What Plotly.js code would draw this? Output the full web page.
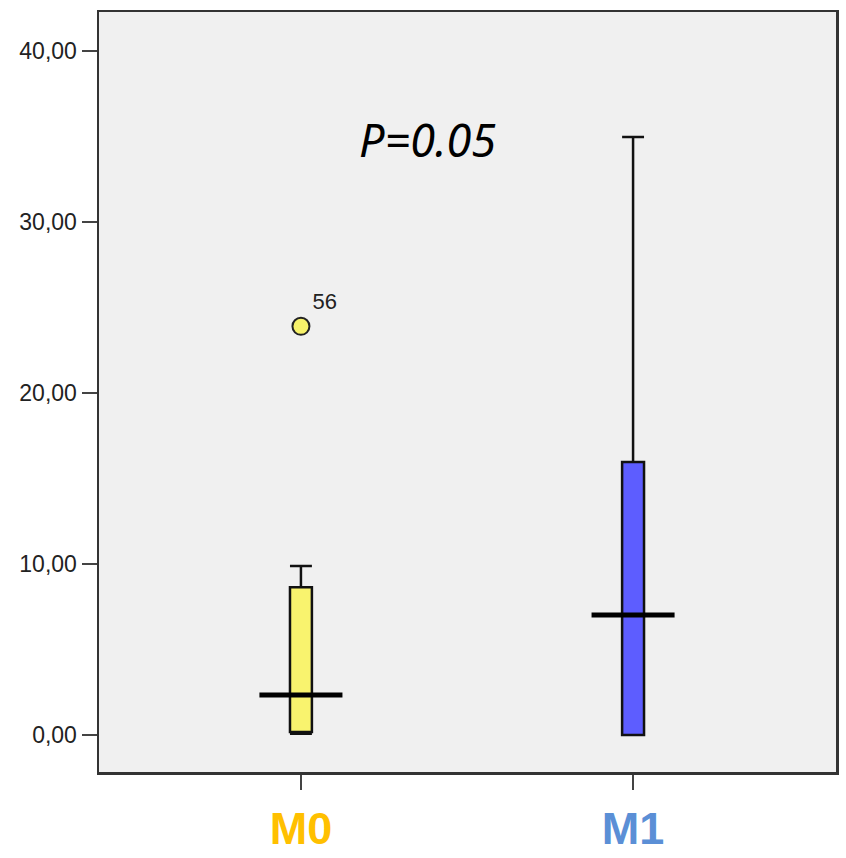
<!DOCTYPE html>
<html>
<head>
<meta charset="utf-8">
<script src="https://cdn.plot.ly/plotly-3.0.1.min.js"></script>
<style>html,body{margin:0;padding:0;background:#fff;}#chart{width:846px;height:858px;}</style>
</head>
<body>
<div id="chart"></div>
<script>
// Data
const groups = ["M0", "M1"];
const groupPos = [0, 1];
const groupColors = ["#FFC000", "#5B8FD6"];
const boxFill = ["#F9F36E", "#5D5DFF"];
const lowerWhisker = [0.08, 0.0];
const q1 = [0.18, 0.0];
const medians = [2.34, 7.02];
const q3 = [8.65, 15.96];
const upperWhisker = [9.88, 34.97];
const outlierGroup = [0];
const outlierValues = [23.9];
const outlierLabels = ["56"];
const yTicks = [0, 10, 20, 30, 40];
const pValueText = "P=0.05";

const traces = groups.map((g, i) => ({
  type: "box",
  x: [groupPos[i]],
  q1: [q1[i]],
  median: [medians[i]],
  q3: [q3[i]],
  lowerfence: [lowerWhisker[i]],
  upperfence: [upperWhisker[i]],
  width: 0.066,
  whiskerwidth: 1,
  fillcolor: boxFill[i],
  line: { color: "#111", width: 2.5 },
  boxpoints: false,
  hoverinfo: "skip",
  showlegend: false
}));

traces.push({
  type: "scatter",
  mode: "markers+text",
  x: outlierGroup.map(i => groupPos[i]),
  y: outlierValues,
  text: outlierLabels,
  textposition: "top right",
  textfont: { family: "Liberation Sans, Arial, sans-serif", size: 22, color: "#222" },
  marker: { size: 17, color: "#F7F26A", line: { color: "#222", width: 2 } },
  showlegend: false,
  hoverinfo: "skip"
});

const medianShapes = groups.map((g, i) => ({
  type: "line", xref: "x", yref: "y",
  x0: groupPos[i] - 0.125, x1: groupPos[i] + 0.125,
  y0: medians[i], y1: medians[i],
  line: { color: "#000", width: 5 }
}));

const layout = {
  width: 846, height: 858,
  margin: { l: 99, r: 10, t: 12, b: 86 },
  paper_bgcolor: "#ffffff",
  plot_bgcolor: "#f0f0f0",
  separators: ",.",
  showlegend: false,
  xaxis: {
    range: [-0.608, 1.611],
    tickvals: groupPos,
    ticktext: groups.map((g, i) => `<span style="color:${groupColors[i]}"><b>${g}</b></span>`),
    tickfont: { family: "Liberation Sans, Arial, sans-serif", size: 45 },
    ticks: "outside", ticklen: 15, tickwidth: 2.5, tickcolor: "#444",
    showline: true, linecolor: "#333", linewidth: 2.5, mirror: true,
    showgrid: false, zeroline: false, fixedrange: true
  },
  yaxis: {
    range: [-2.16, 42.28],
    tickvals: yTicks,
    tickformat: ".2f",
    tickfont: { family: "Liberation Sans, Arial, sans-serif", size: 23, color: "#222" },
    ticks: "outside", ticklen: 15, tickwidth: 2.5, tickcolor: "#444",
    showline: true, linecolor: "#333", linewidth: 2.5, mirror: true,
    showgrid: false, zeroline: false, fixedrange: true
  },
  shapes: medianShapes,
  annotations: [{
    x: 0.38, y: 34.85, xref: "x", yref: "y",
    text: "<i>" + pValueText + "</i>",
    showarrow: false,
    font: { family: "Noto Sans, Open Sans, sans-serif", size: 45, color: "#000" }
  }]
};

Plotly.newPlot("chart", traces, layout, { staticPlot: true, displayModeBar: false });
</script>
</body>
</html>
